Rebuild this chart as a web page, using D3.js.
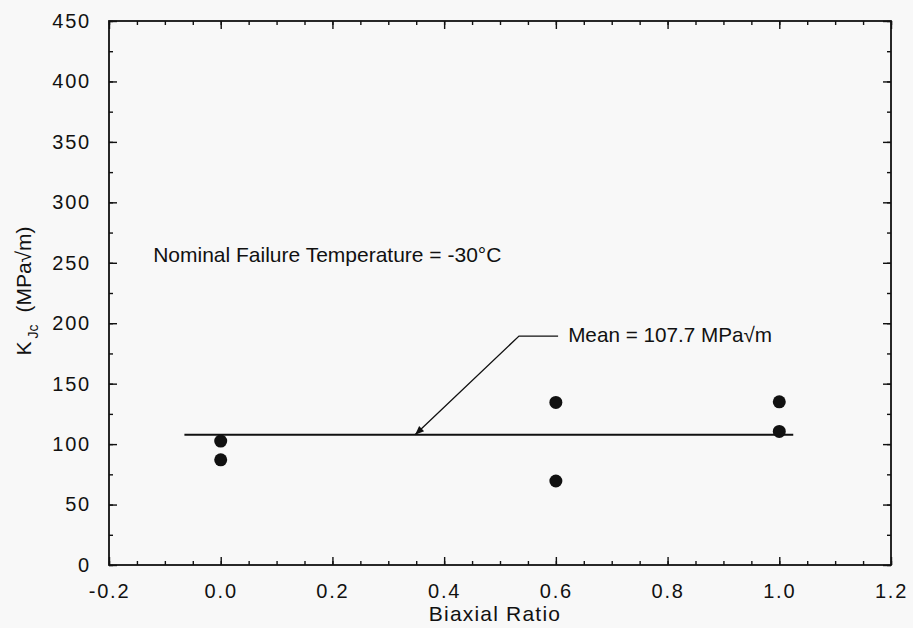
<!DOCTYPE html>
<html>
<head>
<meta charset="utf-8">
<script src="https://cdn.jsdelivr.net/npm/d3@7"></script>
<style>
  body { margin: 0; background: #f8f8f8; }
  text { font-family: "Liberation Sans", Arial, sans-serif; fill: #111; }
</style>
</head>
<body>
<svg id="chart"></svg>
<script>
// data
const biaxialRatio = [0.0, 0.0, 0.6, 0.6, 1.0, 1.0];
const kjc = [102.5, 87, 134.5, 69.5, 135, 110.5];
const meanKjc = 107.7;
const meanRange = [-0.065, 1.025];
const xTicks = [-0.2, 0.0, 0.2, 0.4, 0.6, 0.8, 1.0, 1.2];
const yTicks = [0, 50, 100, 150, 200, 250, 300, 350, 400, 450];

const width = 913, height = 628;
const margin = { top: 21, right: 22, bottom: 63, left: 109 };

const svg = d3.select("#chart")
    .attr("width", width)
    .attr("height", height);

const x = d3.scaleLinear().domain([-0.2, 1.2]).range([margin.left, width - margin.right]);
const y = d3.scaleLinear().domain([0, 450]).range([height - margin.bottom, margin.top]);

const g = svg.append("g");

// frame
g.append("rect")
    .attr("x", x(-0.2)).attr("y", y(450))
    .attr("width", x(1.2) - x(-0.2)).attr("height", y(0) - y(450))
    .attr("fill", "none").attr("stroke", "#111").attr("stroke-width", 1.8);

// ticks, inward on all four sides
const xMinor = d3.range(-0.2, 1.2001, 0.05).map(v => +v.toFixed(2));
const yMinor = d3.range(0, 451, 25);

function drawTicks(axis) {
  axis.call(a => a.select(".domain").remove())
      .selectAll("line").attr("stroke", "#111").attr("stroke-width", 1.4);
}

const xb = d3.axisBottom(x).tickValues(xMinor).tickSize(-4).tickFormat("");
const xt = d3.axisTop(x).tickValues(xMinor).tickSize(-4).tickFormat("");
const yl = d3.axisLeft(y).tickValues(yMinor).tickSize(-4).tickFormat("");
const yr = d3.axisRight(y).tickValues(yMinor).tickSize(-4).tickFormat("");
g.append("g").attr("transform", `translate(0,${y(0)})`).call(xb).call(drawTicks);
g.append("g").attr("transform", `translate(0,${y(450)})`).call(xt).call(drawTicks);
g.append("g").attr("transform", `translate(${x(-0.2)},0)`).call(yl).call(drawTicks);
g.append("g").attr("transform", `translate(${x(1.2)},0)`).call(yr).call(drawTicks);

// major ticks with labels
const xMajor = d3.axisBottom(x).tickValues(xTicks).tickSize(-8).tickPadding(24)
    .tickFormat(d3.format(".1f"));
const yMajor = d3.axisLeft(y).tickValues(yTicks).tickSize(-8).tickPadding(20)
    .tickFormat(d3.format("d"));

const gx = g.append("g").attr("transform", `translate(0,${y(0)})`).call(xMajor).call(drawTicks);
gx.selectAll("text").attr("font-size", 20).attr("letter-spacing", 1.8).attr("dy", "0.45em")
    .text(d => d3.format(".1f")(d).replace("−", "-"));
const gy = g.append("g").attr("transform", `translate(${x(-0.2)},0)`).call(yMajor).call(drawTicks);
gy.selectAll("text").attr("font-size", 20).attr("letter-spacing", 1.8).attr("dx", "2");
g.append("g").attr("transform", `translate(${x(1.2)},0)`)
    .call(d3.axisRight(y).tickValues(yTicks).tickSize(-8).tickFormat(""))
    .call(drawTicks);
g.append("g").attr("transform", `translate(0,${y(450)})`)
    .call(d3.axisTop(x).tickValues(xTicks).tickSize(-8).tickFormat(""))
    .call(drawTicks);

// mean line
g.append("line")
    .attr("x1", x(meanRange[0])).attr("x2", x(meanRange[1]))
    .attr("y1", y(meanKjc)).attr("y2", y(meanKjc))
    .attr("stroke", "#111").attr("stroke-width", 2);

// data points
g.append("g").selectAll("circle")
    .data(biaxialRatio.map((d, i) => [d, kjc[i]]))
    .enter().append("circle")
    .attr("cx", d => x(d[0]))
    .attr("cy", d => y(d[1]))
    .attr("r", 6.5)
    .attr("fill", "#111");

// annotation with arrow
svg.append("defs").append("marker")
    .attr("id", "arrow")
    .attr("viewBox", "0 0 10 10")
    .attr("refX", 10).attr("refY", 5)
    .attr("markerWidth", 10).attr("markerHeight", 9)
    .attr("markerUnits", "userSpaceOnUse")
    .attr("orient", "auto")
    .append("path").attr("d", "M0,1 L10,5 L0,9 Z").attr("fill", "#111");

const annot = [[0.604, 189.4], [0.534, 189.4], [0.348, meanKjc]];
g.append("path")
    .datum(annot)
    .attr("d", d3.line().x(d => x(d[0])).y(d => y(d[1])))
    .attr("fill", "none").attr("stroke", "#111").attr("stroke-width", 1.3)
    .attr("marker-end", "url(#arrow)");

g.append("text")
    .attr("x", x(0.622)).attr("y", y(189.4))
    .attr("dominant-baseline", "middle")
    .attr("font-size", 20.7)
    .text("Mean = 107.7 MPa\u221Am");

g.append("text")
    .attr("x", x(-0.121)).attr("y", y(255.5))
    .attr("dominant-baseline", "middle")
    .attr("font-size", 21)
    .text("Nominal Failure Temperature = -30\u00B0C");

// axis titles
g.append("text")
    .attr("x", (x(-0.2) + x(1.2)) / 2 - 5).attr("y", 621)
    .attr("text-anchor", "middle")
    .attr("font-size", 21)
    .attr("letter-spacing", 1.2)
    .text("Biaxial Ratio");

const yt = g.append("text")
    .attr("transform", `translate(31,${(y(0) + y(450)) / 2 - 2}) rotate(-90)`)
    .attr("text-anchor", "middle")
    .attr("font-size", 21);
yt.append("tspan").text("K");
yt.append("tspan").attr("font-size", 14).attr("dx", 3).attr("dy", 7).text("Jc");
yt.append("tspan").attr("dx", 12).attr("dy", -7).text("(MPa\u221Am)");
</script>
</body>
</html>
